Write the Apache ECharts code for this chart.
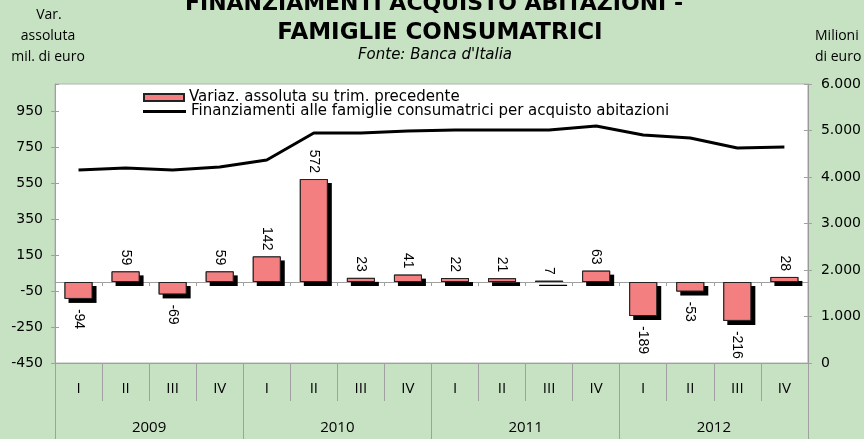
<!DOCTYPE html>
<html>
<head>
<meta charset="utf-8">
<script src="https://cdn.jsdelivr.net/npm/echarts@6/dist/echarts.min.js"></script>
<style>
  html, body { margin: 0; padding: 0; background: #c6e2c3; }
  #chart { width: 864px; height: 439px; }
</style>
</head>
<body>
<div id="chart"></div>
<script>
const quarters = ['I', 'II', 'III', 'IV', 'I', 'II', 'III', 'IV', 'I', 'II', 'III', 'IV', 'I', 'II', 'III', 'IV']
const years = ['2009', '2010', '2011', '2012']
const variazione = [-94, 59, -69, 59, 142, 572, 23, 41, 22, 21, 7, 63, -189, -53, -216, 28]
const finanziamenti = [4150, 4195, 4150, 4215, 4365, 4945, 4945, 4990, 5010, 5010, 5010, 5095, 4905, 4840, 4625, 4645]

const BAR_NAME = 'Variaz. assoluta su trim. precedente'
const LINE_NAME = 'Finanziamenti alle famiglie consumatrici per acquisto abitazioni'

const GRAY = '#a0a0a0'
const numFont = 'DejaVu Sans'
const catFont = 'Open Sans'

const barData = variazione.map((v) => ({
  value: v,
  label: v >= 0
    ? { position: 'top', align: 'right', distance: 6 }
    : { position: 'bottom', align: 'left', distance: 10 },
}))

const sideText = (text, left, top, align) => ({
  text, left, top, textAlign: align, padding: 0,
  textStyle: { fontFamily: catFont, fontWeight: 'normal', fontSize: 14, color: '#000', lineHeight: 16 },
})

const chart = echarts.init(document.getElementById('chart'))

chart.setOption({
  backgroundColor: '#c6e2c3',
  animation: false,
  title: [
    { text: 'FINANZIAMENTI ACQUISTO ABITAZIONI -', left: 434, top: -7, textAlign: 'center', padding: 0,
      textStyle: { fontFamily: numFont, fontWeight: 'bold', fontSize: 22, color: '#000', lineHeight: 22 } },
    { text: 'FAMIGLIE CONSUMATRICI', left: 440, top: 22, textAlign: 'center', padding: 0,
      textStyle: { fontFamily: numFont, fontWeight: 'bold', fontSize: 23, color: '#000', lineHeight: 22 } },
    { text: "Fonte: Banca d'Italia", left: 435, top: 48, textAlign: 'center', padding: 0,
      textStyle: { fontFamily: numFont, fontStyle: 'italic', fontWeight: 'normal', fontSize: 15, color: '#000', lineHeight: 15 } },
    sideText('Var.', 49, 7, 'center'),
    sideText('assoluta', 48, 28, 'center'),
    sideText('mil. di euro', 48, 49, 'center'),
    sideText('Milioni', 815, 28, 'left'),
    sideText('di euro', 815, 49, 'left'),
  ],
  legend: [
    { data: [BAR_NAME], left: 143, top: 90, padding: 0, itemWidth: 40, itemHeight: 7, icon: 'rect',
      selectedMode: false,
      textStyle: { fontFamily: numFont, fontSize: 15, color: '#000' } },
    { data: [LINE_NAME], left: 143, top: 104, padding: 0, itemWidth: 43, itemHeight: 3, icon: 'rect',
      selectedMode: false, itemStyle: { color: '#000', borderWidth: 0 },
      textStyle: { fontFamily: numFont, fontSize: 15, color: '#000' } },
  ],
  grid: {
    left: 55, right: 56, top: 84, bottom: 76,
    show: true, backgroundColor: '#fff', borderColor: '#b4b4b4', borderWidth: 1,
  },
  xAxis: [
    {
      type: 'category', data: quarters, boundaryGap: true,
      axisLine: { onZero: true, onZeroAxisIndex: 0, lineStyle: { color: GRAY, width: 1 } },
      axisTick: { show: true, interval: 0, length: 4, lineStyle: { color: GRAY } },
      axisLabel: { show: false },
    },
    {
      type: 'category', data: quarters, boundaryGap: true, position: 'bottom',
      axisLine: { onZero: false, lineStyle: { color: GRAY } },
      axisTick: { show: true, interval: 0, length: 38, lineStyle: { color: GRAY } },
      axisLabel: { interval: 0, margin: 18, fontFamily: catFont, fontSize: 15, color: '#000' },
    },
    {
      type: 'category', data: years, boundaryGap: true, position: 'bottom',
      axisLine: { show: false, onZero: false },
      axisTick: { show: true, interval: 0, length: 76, lineStyle: { color: GRAY } },
      axisLabel: { interval: 0, margin: 57, fontFamily: catFont, fontSize: 15, color: '#000' },
    },
    {
      type: 'category', data: quarters, boundaryGap: true,
      axisLine: { show: false, onZero: true, onZeroAxisIndex: 0 },
      axisTick: { show: true, inside: true, interval: 0, length: 4, lineStyle: { color: GRAY } },
      axisLabel: { show: false },
    },
  ],
  yAxis: [
    {
      type: 'value', position: 'left', min: -450, max: 1100, interval: 200,
      axisLine: { show: true, lineStyle: { color: GRAY } },
      axisTick: { show: true, length: 4, lineStyle: { color: GRAY } },
      axisLabel: { showMaxLabel: false, margin: 12, fontFamily: numFont, fontSize: 14, color: '#000' },
      splitLine: { show: false },
    },
    {
      type: 'value', position: 'right', min: 0, max: 6000, interval: 1000,
      axisLine: { show: true, lineStyle: { color: '#999' } },
      axisTick: { show: true, length: 4, lineStyle: { color: GRAY } },
      axisLabel: {
        margin: 13, fontFamily: numFont, fontSize: 14, color: '#000',
        formatter: (v) => (v >= 1000 ? Math.floor(v / 1000) + '.' + String(v % 1000).padStart(3, '0') : String(v)),
      },
      splitLine: { show: false },
    },
    {
      type: 'value', position: 'left', min: -450, max: 1100, interval: 200,
      axisLine: { show: false }, axisLabel: { show: false }, splitLine: { show: false },
      axisTick: { show: true, inside: true, length: 4, lineStyle: { color: GRAY } },
    },
    {
      type: 'value', position: 'right', min: 0, max: 6000, interval: 1000,
      axisLine: { show: false }, axisLabel: { show: false }, splitLine: { show: false },
      axisTick: { show: true, inside: true, length: 4, lineStyle: { color: GRAY } },
    },
  ],
  series: [
    {
      // black drop shadow behind each bar
      name: 'ombra', type: 'bar', xAxisIndex: 0, yAxisIndex: 0,
      data: variazione, barWidth: 28, barGap: '-100%',
      itemStyle: { color: '#000', shadowColor: '#000', shadowOffsetX: 4, shadowOffsetY: 4, shadowBlur: 0 },
      silent: true, z: 1,
    },
    {
      name: BAR_NAME, type: 'bar', xAxisIndex: 0, yAxisIndex: 0,
      data: barData, barWidth: 28, barGap: '-100%',
      itemStyle: { color: '#f47f81', borderColor: '#222', borderWidth: 1 },
      label: {
        show: true, rotate: -90, verticalAlign: 'middle',
        fontFamily: 'Liberation Sans', fontSize: 14, color: '#000',
      },
      z: 2,
    },
    {
      name: LINE_NAME, type: 'line', xAxisIndex: 0, yAxisIndex: 1,
      data: finanziamenti, showSymbol: false, symbol: 'none',
      itemStyle: { color: '#000' },
      lineStyle: { color: '#000', width: 3 },
      z: 3,
    },
  ],
})
</script>
</body>
</html>
